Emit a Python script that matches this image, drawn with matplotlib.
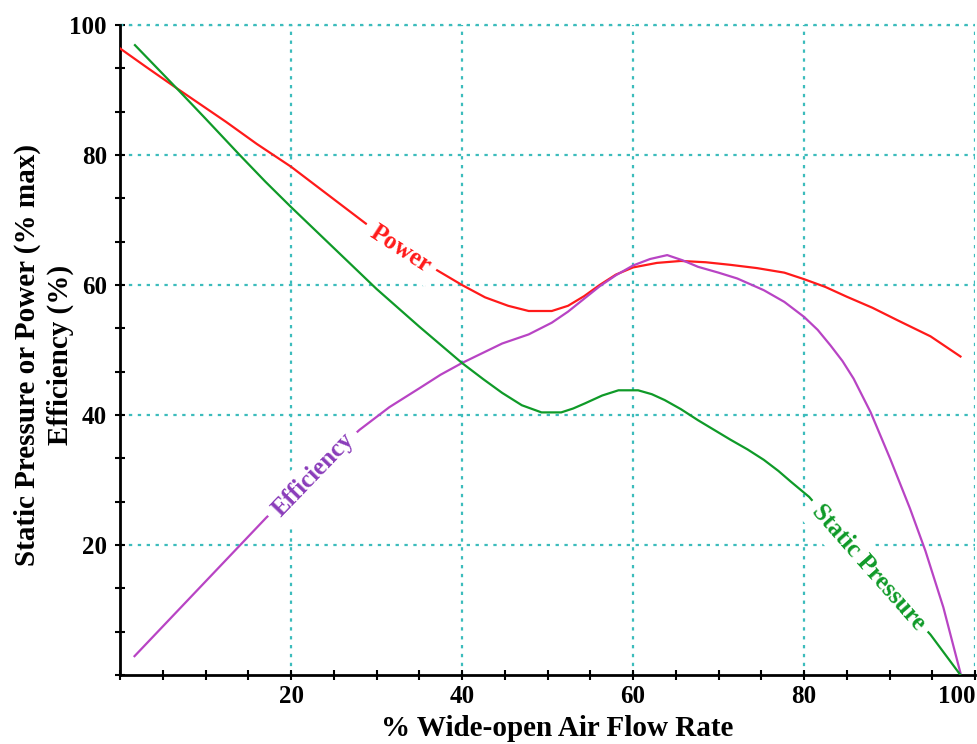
import matplotlib
matplotlib.use("Agg")
from matplotlib import pyplot as plt
from matplotlib.ticker import MultipleLocator, FixedLocator

# values (x = % wide-open air flow rate)
power_x = [0, 3, 6.6, 9.5, 12.4, 16, 20, 24, 28.7, 33, 37.3, 40, 42.7, 45.4,
           47.8, 50.5, 52.4, 54.3, 56.1, 58, 60, 62.8, 65.6, 68.5, 71.4,
           74.5, 77.7, 80, 82.5, 85, 88, 90.9, 94.8, 98.3]
power_y = [96.4, 93.6, 90.3, 87.7, 85.1, 81.7, 78.2, 74.2, 69.5, 65.5, 62.1,
           60.0, 58.1, 56.8, 56.0, 56.0, 56.8, 58.3, 60.0, 61.6, 62.7, 63.4,
           63.7, 63.5, 63.1, 62.6, 61.9, 60.9, 59.7, 58.2, 56.5, 54.6, 52.1,
           49.0]

eff_x = [1.7, 17.1, 22.5, 28, 31.5, 35, 37.5, 40, 44.7, 47.8, 50.5, 52.4,
         54.3, 56.1, 58, 60, 62, 64, 65.8, 67.6, 70, 72.2, 75.3, 77.7, 80,
         81.6, 83.1, 84.5, 85.8, 87.8, 90.1, 92.4, 94.2, 96.3, 98.3]
eff_y = [2.9, 24.2, 31.0, 37.7, 41.2, 44.1, 46.2, 48.0, 51.0, 52.4, 54.2,
         55.9, 57.9, 59.8, 61.5, 63.0, 64.0, 64.6, 63.8, 62.8, 61.9, 61.0,
         59.2, 57.4, 55.1, 53.1, 50.7, 48.3, 45.6, 40.4, 33.2, 25.6, 19.1,
         10.4, 0.3]

sp_x = [1.75, 6.6, 10, 14, 17, 20, 25, 30, 35, 37.5, 40, 42.5, 44.7,
        47, 49.3, 51.6, 53, 54.4, 56.4, 58.3, 60.6, 62.2, 63.7, 65.6, 67.6,
        69.5, 71.4, 73.4, 75.3, 77, 78.5, 80.6, 85, 90, 94.8, 98.3]
sp_y = [96.9, 90.3, 85.6, 80.0, 75.9, 72.0, 65.7, 59.4, 53.6, 50.8,
        48.0, 45.5, 43.4, 41.5, 40.4, 40.4, 41.0, 41.8, 43.0, 43.8, 43.8,
        43.2, 42.3, 40.9, 39.2, 37.7, 36.2, 34.7, 33.1, 31.4, 29.7, 27.4,
        20.7, 13.2, 6.2, 0.0]

x_ticks = [20, 40, 60, 80, 100]
y_ticks = [20, 40, 60, 80, 100]

RED = '#ff1a1a'
GREEN = '#0f9a28'
PURPLE = '#b844c4'
PURPLE_TXT = '#8a3cba'
GRID = '#3cbcbc'

plt.rcParams['font.family'] = ['Liberation Serif', 'DejaVu Serif']
plt.rcParams['font.weight'] = 'bold'

fig = plt.figure(figsize=(9.77, 7.44), dpi=100)
ax = fig.add_axes([120 / 977, 1 - 675 / 744, 855 / 977, 650 / 744])

ax.plot(power_x, power_y, color=RED, lw=1.6, zorder=3)
ax.plot(eff_x, eff_y, color=PURPLE, lw=1.6, zorder=3)
ax.plot(sp_x, sp_y, color=GREEN, lw=1.6, zorder=3)

ax.set_xlim(0, 100)
ax.set_ylim(0, 100)

for s in ['top', 'right']:
    ax.spines[s].set_visible(False)
for s in ['left', 'bottom']:
    ax.spines[s].set_linewidth(2)
    ax.spines[s].set_color('black')

ax.xaxis.set_major_locator(FixedLocator(x_ticks))
ax.yaxis.set_major_locator(FixedLocator(y_ticks))
ax.xaxis.set_minor_locator(MultipleLocator(5))
ax.yaxis.set_minor_locator(MultipleLocator(20 / 3))
ax.tick_params(which='both', direction='inout', length=7, width=1.5,
               labelsize=18, pad=6)
ax.tick_params(axis='x', pad=4)

ax.grid(True, which='major', color=GRID, linestyle=(0, (1.5, 2.5)), lw=1.6,
        zorder=1)
ax.set_axisbelow(True)
# top gridline at y = 100 (edge of the axes)
ax.axhline(100, color=GRID, linestyle=(0, (1.5, 2.5)), lw=1.6, zorder=1,
           clip_on=False)

labels = ax.get_xticklabels()
labels[-1].set_horizontalalignment('right')

fig.text(557 / 977, 1 - 736 / 744, '% Wide-open Air Flow Rate', fontsize=21,
         fontweight='bold', ha='center', va='baseline')
fig.text(44 / 977, 1 - 355 / 744,
         'Static Pressure or Power (% max)\nEfficiency (%)', fontsize=21,
         fontweight='bold', ha='center', va='center', rotation=90,
         linespacing=1.3, multialignment='center')

box = dict(boxstyle='square,pad=0.3', fc='white', ec='none')
ax.text(32.8, 65.6, 'Power', color=RED, fontsize=18, fontweight='bold',
        rotation=-33, ha='center', va='center', bbox=box, zorder=4)
ax.text(22.6, 30.8, 'Efficiency', color=PURPLE_TXT, fontsize=18,
        fontweight='bold', rotation=46, ha='center', va='center', bbox=box,
        zorder=4)
ax.text(87.6, 16.6, 'Static Pressure', color=GREEN, fontsize=18,
        fontweight='bold', rotation=-48.5, ha='center', va='center', bbox=box,
        zorder=4)

fig.savefig('out.png', dpi=100)
